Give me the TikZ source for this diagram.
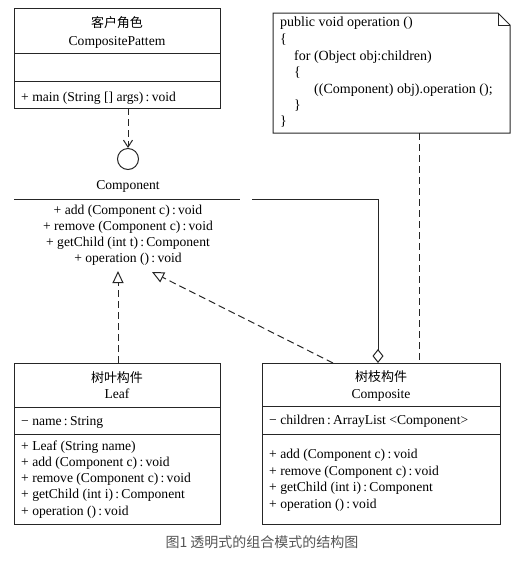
\documentclass[tikz,border=0pt]{standalone}
\usepackage{fontspec}
\setmainfont{Liberation Serif}
\newfontfamily\cjk{Noto Sans CJK SC}
\usetikzlibrary{arrows.meta}
\definecolor{ln}{HTML}{262626}
\definecolor{cap}{HTML}{555555}
\tikzset{
  umlbox/.style={draw=ln, line width=1pt, rectangle, inner sep=0pt, anchor=north west},
  sep/.style={draw=ln, line width=1pt},
  txt/.style={font=\fontsize{13.6}{15}\selectfont, inner sep=0pt, anchor=mid, text=black, yshift=-2pt},
  ltxt/.style={txt, anchor=mid west},
  notetxt/.style={font=\fontsize{14}{16}\selectfont, inner sep=0pt, anchor=mid west, text=black, yshift=-1.5pt},
  cjktxt/.style={font=\cjk\fontsize{13}{15}\selectfont, inner sep=0pt, anchor=mid, text=black, yshift=-2pt},
  dsh/.style={draw=ln, line width=1pt, dash pattern=on 7pt off 4pt},
  conn/.style={draw=ln, line width=1pt},
}
\begin{document}
\begin{tikzpicture}[x=1pt,y=-1pt]
\useasboundingbox (0,0) rectangle (523,566);

% ---------- client ----------
\node[umlbox, minimum width=206, minimum height=100] (client) at (14,8) {};
\draw[sep] (14,53) -- (220,53);
\draw[sep] (14,81) -- (220,81);
\node[cjktxt] (clientcn) at (117,23) {客户角色};
\node[txt] (clientname) at (117,41) {CompositePattem};
\node[ltxt] (clientm) at (21,97) {+ main (String [] args)\,:\,void};

% ---------- interface ----------
\node[circle, draw=ln, line width=1pt, minimum size=21, inner sep=0pt] (iface) at (128,159) {};
\coordinate (cl) at (128,108);
\draw[dsh, -{Straight Barb[length=7,width=9,line width=1pt]}] (cl) -- (iface.north);
\node[txt] (compname) at (128,185) {Component};
\draw[sep] (14,199) -- (240,199);
\node[txt] (m1) at (128,210) {+ add (Component c)\,:\,void};
\node[txt] (m2) at (128,226) {+ remove (Component c)\,:\,void};
\node[txt] (m3) at (128,242) {+ getChild (int t)\,:\,Component};
\node[txt] (m4) at (128,258) {+ operation ()\,:\,void};

% ---------- note ----------
\draw[conn] (273,13) -- (498,13) -- (510,25) -- (510,133) -- (273,133) -- cycle;
\draw[conn] (498,13) -- (498,25) -- (510,25);
\coordinate (note) at (419,133);
\node[notetxt] (n1) at (280,23) {public void operation ()};
\node[notetxt] (n2) at (280,40) {\{};
\node[notetxt] (n3) at (294,57) {for (Object obj:children)};
\node[notetxt] (n4) at (294,73) {\{};
\node[notetxt] (n5) at (314,90) {((Component) obj).operation ();};
\node[notetxt] (n6) at (294,106) {\}};
\node[notetxt] (n7) at (280,122) {\}};

% ---------- leaf ----------
\node[umlbox, minimum width=206, minimum height=161] (leaf) at (14,363) {};
\draw[sep] (14,407) -- (220,407);
\draw[sep] (14,434) -- (220,434);
\node[cjktxt] (leafcn) at (117,378) {树叶构件};
\node[txt] (leafname) at (117,394) {Leaf};
\node[ltxt] (la) at (21,421) {− name\,:\,String};
\node[ltxt] (l1) at (21,446) {+ Leaf (String name)};
\node[ltxt] (l2) at (21,462) {+ add (Component c)\,:\,void};
\node[ltxt] (l3) at (21,478) {+ remove (Component c)\,:\,void};
\node[ltxt] (l4) at (21,494) {+ getChild (int i)\,:\,Component};
\node[ltxt] (l5) at (21,511) {+ operation ()\,:\,void};

% ---------- composite ----------
\node[umlbox, minimum width=238, minimum height=161] (compo) at (262,363) {};
\draw[sep] (262,406) -- (500,406);
\draw[sep] (262,434) -- (500,434);
\node[cjktxt] (compocn) at (381,377) {树枝构件};
\node[txt] (componame) at (381,394) {Composite};
\node[ltxt] (ca) at (269,420) {− children\,:\,ArrayList <Component>};
\node[ltxt] (c1) at (269,454) {+ add (Component c)\,:\,void};
\node[ltxt] (c2) at (269,471) {+ remove (Component c)\,:\,void};
\node[ltxt] (c3) at (269,487) {+ getChild (int i)\,:\,Component};
\node[ltxt] (c4) at (269,504) {+ operation ()\,:\,void};

% ---------- connectors ----------
\coordinate (leaftop) at (118,363);
\coordinate (tip1) at (118,271);
\draw[dsh, -{Triangle[open, length=12, width=11, line width=1pt]}] (leaftop) -- (tip1);
\coordinate (compotop) at (333,363);
\coordinate (tip2) at (152,272);
\draw[dsh, -{Triangle[open, length=12, width=11, line width=1pt]}] (compotop) -- (tip2);
\coordinate (aggstart) at (252,199);
\coordinate (aggend) at (378,363);
\draw[conn, -{Diamond[open, length=14, width=11, line width=1pt]}] (aggstart) -| (aggend);
\coordinate (notein) at (419,363);
\draw[dsh] (note) -- (notein);

% ---------- caption ----------
\node[font=\cjk\fontsize{14}{16}\selectfont, text=cap, inner sep=0pt, anchor=mid] (caption) at (262,545) {图1 透明式的组合模式的结构图};
\end{tikzpicture}
\end{document}
